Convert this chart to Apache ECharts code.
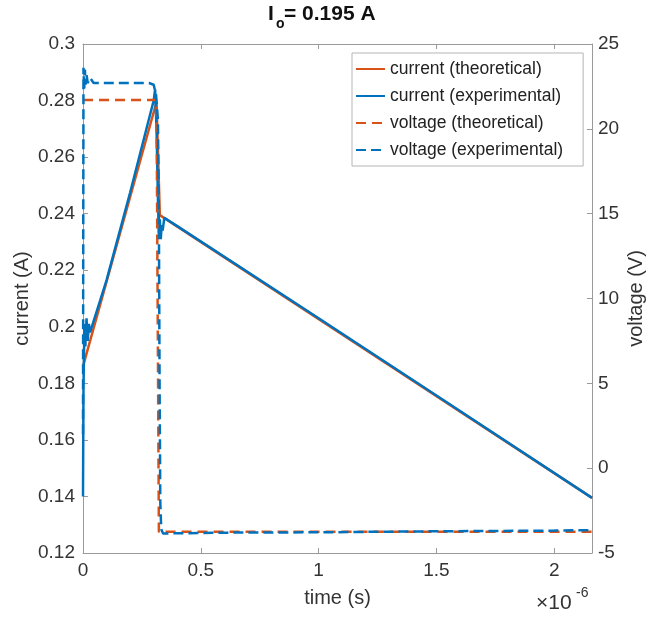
<!DOCTYPE html>
<html>
<head>
<meta charset="utf-8">
<script src="https://cdn.jsdelivr.net/npm/echarts@6/dist/echarts.min.js"></script>
<style>
html,body{margin:0;padding:0;background:#fff;}
#chart{width:650px;height:619px;}
</style>
</head>
<body>
<div id="chart"></div>
<script>
// time in units of 1e-6 s
const timeCurTheo = [0, 0.312, 0.326, 2.16];
const curTheo     = [0.186, 0.2795, 0.2395, 0.1395];

const timeCurExp = [0, 0.002, 0.006, 0.010, 0.015, 0.020, 0.025, 0.030, 0.100, 0.200, 0.300, 0.306, 0.312, 0.318, 0.322, 0.326, 0.330, 0.334, 0.338, 0.345, 0.400, 1.000, 1.500, 2.160];
const curExp     = [0.140, 0.178, 0.201, 0.193, 0.203, 0.195, 0.201, 0.198, 0.2165, 0.2475, 0.280, 0.284, 0.270, 0.245, 0.233, 0.238, 0.231, 0.236, 0.234, 0.2385, 0.2356, 0.2030, 0.1757, 0.1395];

const timeVolTheo = [0, 0.312, 0.322, 2.16];
const volTheo     = [21.7, 21.7, -3.75, -3.75];

const timeVolExp = [0, 0.002, 0.005, 0.008, 0.011, 0.015, 0.020, 0.030, 0.045, 0.060, 0.280, 0.300, 0.310, 0.318, 0.322, 0.325, 0.328, 0.332, 0.340, 0.600, 1.000, 1.500, 2.000, 2.160];
const volExp     = [2.0, 23.6, 22.3, 23.5, 22.6, 23.2, 22.7, 23.0, 22.7, 22.7, 22.7, 22.6, 22.0, 20.5, 15.0, 5.0, -2.0, -3.6, -3.85, -3.8, -3.78, -3.72, -3.68, -3.65];

const xTicks = { min: 0, max: 2.16, interval: 0.5 };
const yLeftTicks = { min: 0.12, max: 0.3, interval: 0.02 };
const yRightTicks = { min: -5, max: 25, interval: 5 };

const seriesNames = ['current (theoretical)', 'current (experimental)', 'voltage (theoretical)', 'voltage (experimental)'];

function pairs(xs, ys) { return xs.map((x, i) => [x, ys[i]]); }

const ORANGE = '#D95319';
const BLUE = '#0072BD';
const AXIS = '#9a9a9a';
const TXT = '#333333';
const FONT = '"Liberation Sans", Arial, Helvetica, sans-serif';

const chart = echarts.init(document.getElementById('chart'), null, { renderer: 'canvas' });

const option = {
  animation: false,
  backgroundColor: '#ffffff',
  textStyle: { fontFamily: FONT },
  grid: { left: 83, right: 58, top: 44, bottom: 66, containLabel: false, outerBoundsMode: 'none' },
  legend: {
    orient: 'vertical',
    left: 352, top: 53,
    padding: [7, 20, 7, 3],
    itemWidth: 29, itemHeight: 14, itemGap: 9,
    itemStyle: { opacity: 0 },
    backgroundColor: '#ffffff',
    borderColor: '#b5b5b5', borderWidth: 1, borderRadius: 0,
    textStyle: { fontSize: 17.5, color: '#222', fontFamily: FONT },
    data: seriesNames
  },
  xAxis: [
    {
      type: 'value', min: xTicks.min, max: xTicks.max, interval: xTicks.interval,
      position: 'bottom',
      name: 'time (s)', nameLocation: 'middle', nameGap: 35, nameMoveOverlap: false,
      nameTextStyle: { fontSize: 20, color: TXT, fontFamily: FONT },
      axisLine: { show: true, onZero: false, lineStyle: { color: AXIS, width: 1 } },
      axisTick: { show: true, inside: true, length: 5, lineStyle: { color: AXIS } },
      axisLabel: { fontSize: 19, color: TXT, margin: 8, showMaxLabel: false, fontFamily: FONT,
        formatter: v => String(+v.toFixed(2)) },
      splitLine: { show: false }
    },
    {
      type: 'value', min: xTicks.min, max: xTicks.max, interval: xTicks.interval,
      position: 'top',
      axisLine: { show: true, onZero: false, lineStyle: { color: AXIS, width: 1 } },
      axisTick: { show: true, inside: true, length: 5, lineStyle: { color: AXIS } },
      axisLabel: { show: false },
      splitLine: { show: false }
    }
  ],
  yAxis: [
    {
      type: 'value', min: yLeftTicks.min, max: yLeftTicks.max, interval: yLeftTicks.interval,
      position: 'left',
      name: 'current (A)', nameLocation: 'middle', nameGap: 51, nameMoveOverlap: false,
      nameTextStyle: { fontSize: 20, color: TXT, fontFamily: FONT },
      axisLine: { show: true, onZero: false, lineStyle: { color: AXIS, width: 1 } },
      axisTick: { show: true, inside: true, length: 5, lineStyle: { color: AXIS } },
      axisLabel: { fontSize: 19, color: TXT, margin: 8, fontFamily: FONT,
        formatter: v => String(+v.toFixed(2)) },
      splitLine: { show: false }
    },
    {
      type: 'value', min: yRightTicks.min, max: yRightTicks.max, interval: yRightTicks.interval,
      position: 'right',
      name: 'voltage (V)', nameLocation: 'middle', nameGap: 34, nameRotate: 90, nameMoveOverlap: false,
      nameTextStyle: { fontSize: 20, color: TXT, fontFamily: FONT },
      axisLine: { show: true, onZero: false, lineStyle: { color: AXIS, width: 1 } },
      axisTick: { show: true, inside: true, length: 5, lineStyle: { color: AXIS } },
      axisLabel: { fontSize: 19, color: TXT, margin: 6, fontFamily: FONT,
        formatter: v => String(v) },
      splitLine: { show: false }
    }
  ],
  graphic: [
    { type: 'text', left: 268, top: 4, style: { text: 'I', font: 'bold 21px ' + FONT, fill: '#111' } },
    { type: 'text', left: 276, top: 17, style: { text: 'o', font: 'bold 14px ' + FONT, fill: '#111' } },
    { type: 'text', left: 284, top: 4, style: { text: '= 0.195 A', font: 'bold 21px ' + FONT, fill: '#111' } },
    { type: 'text', left: 536, top: 593, style: { text: '×10', font: '21px ' + FONT, fill: TXT } },
    { type: 'text', left: 576, top: 586, style: { text: '-6', font: '14px ' + FONT, fill: TXT } }
  ],
  series: [
    {
      name: seriesNames[0], type: 'line', xAxisIndex: 0, yAxisIndex: 0,
      data: pairs(timeCurTheo, curTheo), symbol: 'none', z: 2,
      lineStyle: { color: ORANGE, width: 2.5, type: 'solid' }, itemStyle: { color: ORANGE }
    },
    {
      name: seriesNames[1], type: 'line', xAxisIndex: 0, yAxisIndex: 0,
      data: pairs(timeCurExp, curExp), symbol: 'none', z: 3,
      lineStyle: { color: BLUE, width: 2.5, type: 'solid' }, itemStyle: { color: BLUE }
    },
    {
      name: seriesNames[2], type: 'line', xAxisIndex: 0, yAxisIndex: 1,
      data: pairs(timeVolTheo, volTheo), symbol: 'none', z: 4,
      lineStyle: { color: ORANGE, width: 2.5, type: [10, 6] }, itemStyle: { color: ORANGE }
    },
    {
      name: seriesNames[3], type: 'line', xAxisIndex: 0, yAxisIndex: 1,
      data: pairs(timeVolExp, volExp), symbol: 'none', z: 5,
      lineStyle: { color: BLUE, width: 2.5, type: [10, 5] }, itemStyle: { color: BLUE }
    }
  ]
};
chart.setOption(option);
</script>
</body>
</html>
